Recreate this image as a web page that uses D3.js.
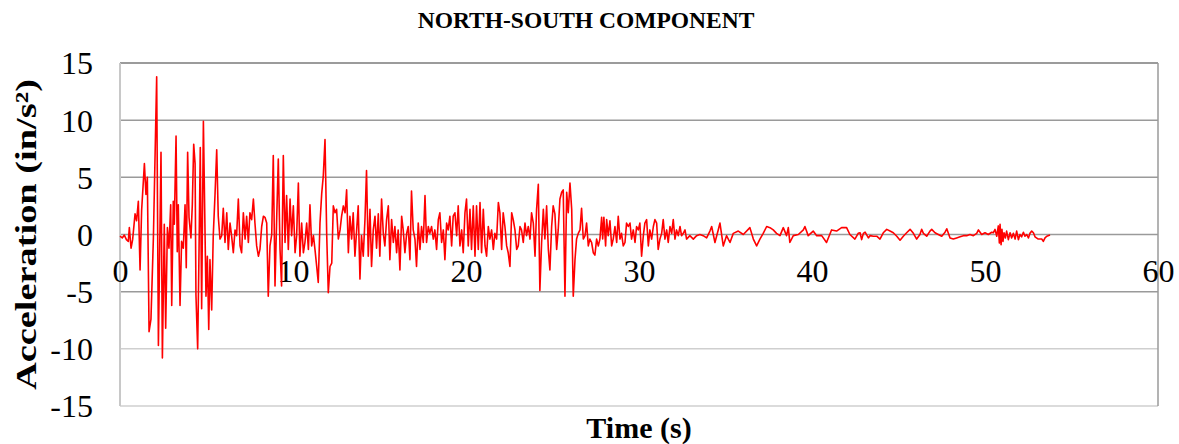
<!DOCTYPE html>
<html>
<head>
<meta charset="utf-8">
<script src="https://cdn.jsdelivr.net/npm/d3@7"></script>
<style>
  html, body { margin: 0; padding: 0; background: #fff; }
  svg { display: block; }
  text { font-family: "Liberation Serif", "Times New Roman", serif; fill: #000; }
</style>
</head>
<body>
<svg id="chart" width="1179" height="444"></svg>
<script>
// Ground acceleration record, north-south component: [time (s), acceleration (in/s²)]
const strongMotion = [
  [0.00,-0.15],[0.13,-0.3],[0.25,-0.05],[0.37,-0.45],[0.48,-0.6],[0.54,0.6],[0.64,-1.2],[0.73,-0.45],
  [0.87,1.8],[0.96,1.2],[1.06,2.9],[1.16,-3.1],[1.25,2.1],[1.41,6.2],[1.50,3.5],[1.58,5.0],[1.68,-8.5],
  [1.79,-7.4],[1.93,-0.3],[2.12,13.8],[2.22,-9.7],[2.37,7.2],[2.45,-10.8],[2.56,0.9],[2.64,-8.2],
  [2.74,0.6],[2.83,-1.2],[2.93,2.6],[2.99,-6.2],[3.08,2.9],[3.14,0.9],[3.24,8.6],[3.31,-1.5],[3.37,2.6],
  [3.47,-6.2],[3.56,-0.6],[3.66,-1.2],[3.76,2.6],[3.83,-2.9],[3.91,7.2],[3.99,1.5],[4.10,-0.3],[4.18,2.6],
  [4.26,7.9],[4.34,6.2],[4.39,-5.3],[4.49,-10.0],[4.57,-1.2],[4.64,7.6],[4.72,-6.5],[4.82,9.9],[4.97,-5.4],
  [5.05,-1.9],[5.13,-8.3],[5.20,-2.2],[5.30,-6.6],[5.39,-0.1],[5.49,3.4],[5.59,7.4],[5.68,1.6],[5.78,-0.4],
  [5.88,-0.1],[5.97,2.3],[6.07,-0.7],[6.17,1.9],[6.26,-1.3],[6.36,1.0],[6.45,-0.1],[6.55,-1.6],[6.65,0.4],
  [6.74,-0.1],[6.84,3.1],[6.94,-1.0],[7.03,-1.6],[7.13,1.9],[7.23,-0.4],[7.32,1.6],[7.42,-0.7],[7.51,1.9],
  [7.61,1.3],[7.71,3.1],[7.80,1.0],[7.90,-1.0],[8.00,-1.9],[8.09,-1.3],[8.19,0.7],[8.29,1.6],[8.38,1.5],
  [8.48,1.0],[8.57,-5.4],[8.67,-1.0],[8.77,0],[8.86,6.9],[8.96,-4.5],[9.06,1.6],[9.15,6.6],[9.25,-1.3],
  [9.34,-4.5],[9.44,6.9],[9.54,-0.7],[9.63,3.4],[9.73,-1.3],[9.83,3.1],[9.92,-0.1],[10.02,2.5],[10.12,-1.6],
  [10.21,-0.1],[10.31,4.5],[10.40,-1.9],[10.50,1.0],[10.60,-1.6],[10.69,-0.7],[10.79,1.0],[10.89,-1.3],
  [10.98,2.6],[11.08,-1.0],[11.18,-0.1],[11.27,-1.3],[11.37,-2.8],[11.46,-4.2],[11.56,1.0],[11.66,3.6],
  [11.75,5.1],[11.85,8.3],[11.95,-0.1],[12.04,-5.1],[12.14,-2.8],[12.24,-2.5],[12.33,2.5],[12.43,1.9],
  [12.52,2.2],[12.62,-0.4],[12.72,0.4],[12.81,1.6],[12.91,2.5],[13.01,1.9],[13.10,3.9],[13.20,-1.6]
];

const middlePhase = [
  [13.29,1.6],[13.39,-0.4],[13.48,1.9],[13.58,-1.9],[13.68,0.4],[13.77,2.5],[13.87,-3.9],[13.96,-0.1],
  [14.06,-1.9],[14.16,1.3],[14.25,5.6],[14.35,-1.9],[14.45,2.2],[14.54,-2.8],[14.64,0.4],[14.74,1.6],
  [14.83,-1.2],[14.93,1.8],[15.02,-1.9],[15.12,3.1],[15.22,0.1],[15.31,-1.0],[15.41,1.3],[15.51,2.5],
  [15.60,-2.2],[15.70,1.3],[15.80,-0.7],[15.89,0.7],[15.99,-1.6],[16.08,0.4],[16.18,-3.1],[16.28,1.6],
  [16.37,0.4],[16.47,-1.6],[16.57,0.1],[16.66,0.7],[16.76,-2.2],[16.85,3.8],[16.95,0.4],[17.05,-0.4],
  [17.14,-2.8],[17.24,1.0],[17.34,-1.3],[17.43,0.7],[17.53,-0.7],[17.63,3.4],[17.72,-0.7],[17.82,0.7],
  [17.91,0.1],[18.01,0.7],[18.11,-0.4],[18.20,0.4],[18.30,-1.3],[18.40,1.3],[18.49,1.9],[18.59,-0.7],
  [18.69,0.4],[18.78,-2.2],[18.88,1.0],[18.97,0.4],[19.07,1.6],[19.17,-1.0],[19.26,1.6],[19.36,1.9],
  [19.46,-0.1],[19.55,2.5],[19.65,-1.0],[19.75,0.4],[19.84,-1.6],[19.94,1.9],[20.03,3.1],[20.13,-1.0],
  [20.23,2.2],[20.32,-1.3],[20.42,2.5],[20.52,-1.9],[20.61,2.5],[20.71,-1.3],[20.81,2.8],[20.90,-1.6],
  [21.00,2.2],[21.10,-1.0],[21.19,-1.9],[21.29,0.7],[21.38,-0.4],[21.48,0.4],[21.58,-1.3],[21.67,0.1],
  [21.77,-0.4],[21.87,2.8],[21.96,1.9],[22.06,-1.3],[22.15,1.9],[22.25,0.7],[22.35,-1.0],[22.44,-1.6],
  [22.54,-2.8],[22.64,1.9],[22.73,1.3],[22.83,0.4],[22.93,-1.3],[23.02,-1.0],[23.12,0.7],[23.21,0.4],
  [23.31,-0.7],[23.41,1.0],[23.50,-0.1],[23.60,0.7],[23.70,-0.4],[23.79,1.9],[23.89,1.0],[23.99,-1.9],
  [24.08,2.2],[24.18,4.4],[24.27,-4.9],[24.37,-0.7],[24.47,2.2],[24.56,-0.4],[24.66,2.5],[24.76,-1.3],
  [24.85,-3.1],[24.95,0.7],[25.04,2.5],[25.14,1.8],[25.24,-1.3],[25.33,0.4],[25.43,3.1],[25.53,3.7],
  [25.62,3.9],[25.72,-5.4],[25.82,3.7],[25.91,1.9],[26.01,4.5],[26.11,2.2],[26.20,-5.4],[26.30,-2.2]
];

const latePhase = [
  [26.39,-0.4],[26.49,0.1],[26.59,0.4],[26.68,2.3],[26.78,-0.4],[26.88,-0.1],[26.97,1.0],[27.07,-1.0],
  [27.16,-0.4],[27.26,-0.7],[27.36,-1.6],[27.45,-1.8],[27.55,-0.4],[27.65,-1.0],[27.74,-0.4],[27.84,1.5],
  [27.90,-0.4],[27.97,1.5],[28.07,-1.0],[28.13,1.3],[28.22,-0.1],[28.32,1.2],[28.42,-1.0],[28.51,-0.4],
  [28.61,0.7],[28.71,-0.7],[28.80,1.6],[28.90,-0.4],[28.99,0.1],[29.09,-1.0],[29.19,-0.7],[29.28,1.0],
  [29.38,0.7],[29.48,1.0],[29.57,-0.4],[29.67,0.4],[29.77,-0.7],[29.86,0.7],[29.96,0.4],[30.05,1.0],
  [30.15,-1.9],[30.25,-0.1],[30.34,1.0],[30.44,1.3],[30.54,-1.0],[30.63,0.4],[30.73,-0.4],[30.83,0.7],
  [30.92,1.3],[31.02,1.0],[31.11,-1.3],[31.21,-0.4],[31.31,0.1],[31.40,1.3],[31.50,-0.4],[31.60,0.4],
  [31.69,-0.7],[31.79,0.7],[31.89,0.1],[31.98,1.3],[32.08,-0.4],[32.17,0.4],[32.27,-0.1],[32.37,0.7],
  [32.46,-0.1],[32.56,0.1],[32.66,0.4],[32.75,-0.4],[32.94,-0.1],[33.14,-0.4],[33.33,-0.1],[33.52,0],
  [33.71,-0.1],[33.91,-0.3],[34.10,0.3],[34.20,0.7],[34.39,-0.7],[34.58,0.4],[34.68,1.0],[34.87,-1.0],
  [35.06,-0.1],[35.26,-0.7],[35.45,0.1],[35.74,0.3],[36.03,0],[36.41,0.6],[36.61,-0.4],[36.80,-1.0],
  [36.99,-0.4],[37.18,0.1],[37.38,0.7],[37.57,0.6],[37.76,0.4],[37.95,0.1],[38.15,-0.1],[38.34,0.6],
  [38.53,-0.1],[38.63,0.6],[38.72,-0.7],[38.92,-0.1],[39.21,0],[39.50,0.4],[39.59,0.7],[39.78,-0.1],
  [40.07,0.3],[40.27,-0.1],[40.56,-0.1],[40.84,-0.7],[41.13,0.4],[41.42,0.3],[41.71,0.6],[42.00,0.6],
  [42.19,0],[42.48,-0.4],[42.67,0.1]
];

const coda = [
  [42.78,0.15],[42.87,-0.45],[42.97,0.1],[43.07,0.2],[43.26,-0.3],[43.35,-0.1],[43.55,-0.15],[43.74,-0.15],
  [43.93,-0.4],[44.12,0.15],[44.32,0.45],[44.51,0.3],[44.70,0.15],[44.90,-0.15],[45.09,-0.5],[45.28,-0.15],
  [45.47,0.15],[45.67,0.45],[45.86,0.1],[46.05,-0.4],[46.24,0],[46.34,0.45],[46.44,0.1],[46.63,-0.15],
  [46.82,0.3],[46.92,0.45],[47.11,0.15],[47.30,0],[47.50,-0.15],[47.69,0.2],[47.79,0.5],[47.98,-0.3],
  [48.17,-0.4],[48.36,-0.3],[48.56,-0.2],[48.75,-0.1],[48.94,-0.1],[49.13,0],[49.33,-0.1],[49.52,0.1],
  [49.62,0.4],[49.81,0],[50.00,0.15],[50.19,0],[50.39,0.2],[50.48,0.15],[50.58,0.45],[50.68,-0.15],
  [50.77,0.75],[50.83,-0.75],[50.87,0.9],[50.93,-0.9],[50.98,0.45],[51.04,-0.6],[51.10,0.15],[51.18,-0.3],
  [51.25,0.3],[51.35,-0.45],[51.45,0.15],[51.54,-0.3],[51.64,0.1],[51.74,-0.4],[51.83,0.3],[51.93,-0.45],
  [52.02,0],[52.12,-0.2],[52.22,0.2],[52.31,-0.15],[52.41,0],[52.51,-0.3],[52.60,0.1],[52.70,0.3],
  [52.80,0.15],[52.89,-0.2],[53.08,-0.4],[53.28,-0.4],[53.37,-0.6],[53.47,-0.3],[53.57,-0.15],[53.76,-0.05]
];

const xTicks = [0, 10, 20, 30, 40, 50, 60];
const yTicks = [-15, -10, -5, 0, 5, 10, 15];

const chartTitle = "NORTH-SOUTH COMPONENT";
const xTitle = "Time (s)";
const yTitle = "Acceleration (in/s\u00B2)";

const record = [].concat(strongMotion, middlePhase, latePhase, coda);

const serif = "'Liberation Serif', 'Times New Roman', serif";
const svg = d3.select("#chart");
const plot = { left: 120, right: 1158, top: 63, bottom: 406 };

const x = d3.scaleLinear().domain([0, 60]).range([plot.left, plot.right]);
const y = d3.scaleLinear().domain([-15, 15]).range([plot.bottom, plot.top]);

// plain hyphen-minus for negative tick values
const plainNumber = d => String(d);

// horizontal gridlines
svg.append("g")
  .selectAll("line")
  .data(yTicks)
  .join("line")
  .attr("x1", plot.left).attr("x2", plot.right)
  .attr("y1", d => y(d)).attr("y2", d => y(d))
  .attr("stroke", d => d === 15 ? "#7a7a7a" : (d === -10 || d === -15 ? "#cfcfcf" : "#9a9a9a"))
  .attr("stroke-width", 1.5);

// frame: left axis and right edge
svg.append("line")
  .attr("x1", plot.left).attr("x2", plot.left)
  .attr("y1", plot.top).attr("y2", plot.bottom)
  .attr("stroke", "#c8c8c8").attr("stroke-width", 2);
svg.append("line")
  .attr("x1", plot.right).attr("x2", plot.right)
  .attr("y1", plot.top).attr("y2", plot.bottom)
  .attr("stroke", "#9a9a9a").attr("stroke-width", 1.5);

// y tick labels
const yAxis = d3.axisLeft(y).tickValues(yTicks).tickFormat(plainNumber).tickSize(0).tickPadding(0);
const yG = svg.append("g").attr("transform", `translate(${plot.left - 27},0)`).call(yAxis);
yG.attr("font-family", null);
yG.select(".domain").remove();
yG.selectAll("text")
  .style("font-family", serif)
  .style("font-size", "32px")
  .attr("dy", "0.34em")
  .attr("fill", "#000");

// x tick labels sit on the zero line
const xAxis = d3.axisBottom(x).tickValues(xTicks).tickFormat(plainNumber).tickSize(0).tickPadding(0);
const xG = svg.append("g").attr("transform", `translate(0,${y(0)})`).call(xAxis);
xG.attr("font-family", null);
xG.select(".domain").remove();
xG.selectAll("text")
  .style("font-family", serif)
  .style("font-size", "32px")
  .attr("y", 0)
  .attr("dy", "1.48em")
  .attr("fill", "#000");

// acceleration trace
const line = d3.line()
  .x(d => x(d[0]))
  .y(d => y(d[1]));

svg.append("path")
  .datum(record)
  .attr("fill", "none")
  .attr("stroke", "#ff0000")
  .attr("stroke-width", 1.6)
  .attr("stroke-linejoin", "round")
  .attr("d", line);

// titles
svg.append("text")
  .attr("x", 586).attr("y", 28)
  .attr("text-anchor", "middle")
  .style("font-family", serif)
  .style("font-weight", "bold")
  .style("font-size", "23.5px")
  .text(chartTitle);

svg.append("text")
  .attr("x", 639).attr("y", 438)
  .attr("text-anchor", "middle")
  .style("font-family", serif)
  .style("font-weight", "bold")
  .style("font-size", "30px")
  .text(xTitle);

svg.append("text")
  .attr("transform", `translate(36,${(plot.top + plot.bottom) / 2}) rotate(-90) scale(1.28,1)`)
  .attr("text-anchor", "middle")
  .style("font-family", serif)
  .style("font-weight", "bold")
  .style("font-size", "30px")
  .text(yTitle);
</script>
</body>
</html>
